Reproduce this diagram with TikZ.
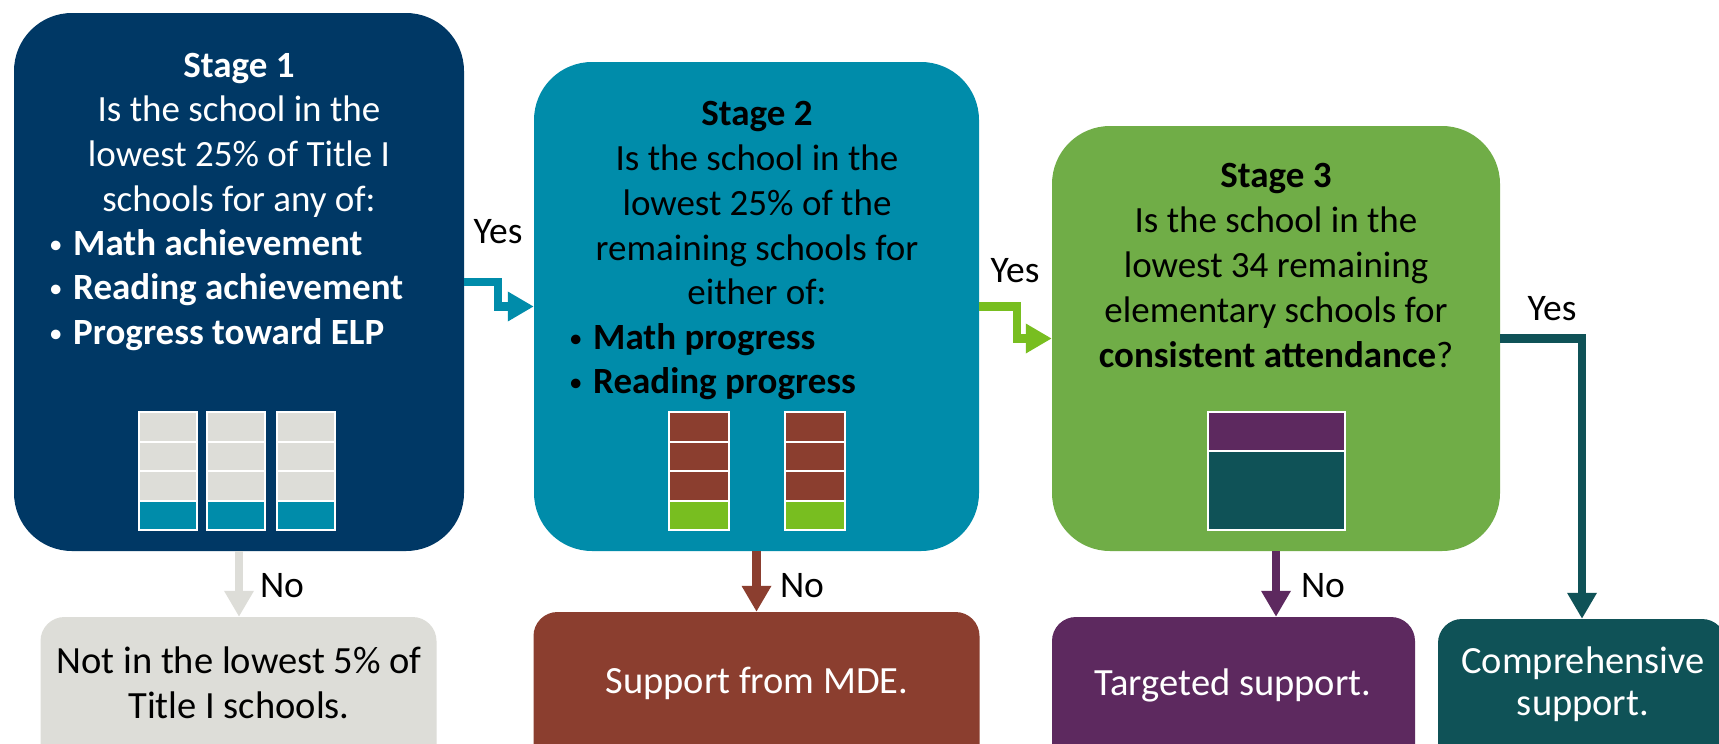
\documentclass[tikz,border=0pt]{standalone}
\usepackage{fontspec}
\setmainfont{Carlito}
\usetikzlibrary{arrows.meta}

\definecolor{navy}{RGB}{0,56,101}
\definecolor{tealblue}{RGB}{0,140,170}
\definecolor{leafgreen}{RGB}{112,173,71}
\definecolor{limegreen}{RGB}{120,190,32}
\definecolor{stonegray}{RGB}{221,221,216}
\definecolor{rust}{RGB}{139,62,47}
\definecolor{plum}{RGB}{93,41,95}
\definecolor{deepteal}{RGB}{15,82,87}

% small list bullet followed by a fixed gap
\newcommand{\listdot}{\makebox[24pt][l]{\fontsize{27}{27}\selectfont\raisebox{2pt}{•}}}

\begin{document}
\begin{tikzpicture}[x=1pt,y=-1pt,
  stagebox/.style={rectangle,rounded corners=58pt,inner sep=0pt},
  outbox/.style={rectangle,rounded corners=24pt,inner sep=0pt},
  txt/.style={inner sep=0pt,anchor=base,font=\fontsize{37}{45}\selectfont},
  outtxt/.style={inner sep=0pt,anchor=base,font=\fontsize{38.5}{45}\selectfont},
  bul/.style={txt,anchor=base west},
  lbl/.style={inner sep=0pt,anchor=base,font=\fontsize{37.5}{42}\selectfont},
  flow/.style={line width=8.5pt,-{Triangle[width=28pt,length=26pt]}},
  cell/.style={draw=white,line width=1.2pt}
]
\useasboundingbox (0,0) rectangle (1719,744);
\clip (0,0) rectangle (1719,744);
\fill[white] (0,0) rectangle (1719,744);

% stage boxes
\node[stagebox,fill=navy,minimum width=450pt,minimum height=538pt] (s1) at (239,282) {};
\node[stagebox,fill=tealblue,minimum width=445pt,minimum height=489pt] (s2) at (756.5,306.5) {};
\node[stagebox,fill=leafgreen,minimum width=448pt,minimum height=425pt] (s3) at (1276,338.5) {};

% outcome boxes (their lower edge runs past the page)
\node[outbox,fill=stonegray,minimum width=396pt,minimum height=163pt] (n1) at (238.5,698.5) {};
\node[outbox,fill=rust,minimum width=446pt,minimum height=168pt] (n2) at (756.5,696) {};
\node[outbox,fill=plum,minimum width=363pt,minimum height=163pt] (n3) at (1233.5,698.5) {};
\node[outbox,fill=deepteal,minimum width=288pt,minimum height=161pt] (c4) at (1582,699.5) {};

% stage 1 text
\begin{scope}[text=white]
\node[txt] (s1a) at (239,77) {\textbf{Stage 1}};
\node[txt] (s1b) at (239,121) {Is the school in the};
\node[txt] (s1c) at (239,166) {lowest 25\% of Title I};
\node[txt] (s1d) at (239,211) {schools for any of:};
\node[bul] (s1e) at (49,255) {\listdot\textbf{Math achievement}};
\node[bul] (s1f) at (49,299) {\listdot\textbf{Reading achievement}};
\node[bul] (s1g) at (49,344) {\listdot\textbf{Progress toward ELP}};
\end{scope}

% stage 2 text
\node[txt] (s2a) at (757,125) {\textbf{Stage 2}};
\node[txt] (s2b) at (757,170) {Is the school in the};
\node[txt] (s2c) at (757,215) {lowest 25\% of the};
\node[txt] (s2d) at (757,260) {remaining schools for};
\node[txt] (s2e) at (757,304) {either of:};
\node[bul] (s2f) at (569,349) {\listdot\textbf{Math progress}};
\node[bul] (s2g) at (569,393) {\listdot\textbf{Reading progress}};

% stage 3 text
\node[txt] (s3a) at (1276,187) {\textbf{Stage 3}};
\node[txt] (s3b) at (1276,232) {Is the school in the};
\node[txt] (s3c) at (1276,277) {lowest 34 remaining};
\node[txt] (s3d) at (1276,322) {elementary schools for};
\node[txt] (s3e) at (1276,367) {\textbf{consistent attendance}?};

% outcome text
\node[outtxt] (n1a) at (239,673) {Not in the lowest 5\% of};
\node[outtxt] (n1b) at (239,718) {Title I schools.};
\node[outtxt,text=white] (n2a) at (757,693) {Support from MDE.};
\node[outtxt,text=white] (n3a) at (1233,695) {Targeted support.};
\node[outtxt,text=white] (c4a) at (1583,673) {Comprehensive};
\node[outtxt,text=white] (c4b) at (1583,715) {support.};

% stage 1 bars
\foreach \x in {139,207,277}{
  \foreach \y in {412,442,471}
    \draw[cell,fill=stonegray] (\x,\y) rectangle (\x+58,\y+30);
  \draw[cell,fill=tealblue] (\x,501) rectangle (\x+58,530);
}
% stage 2 bars
\foreach \x in {669,785}{
  \foreach \y in {412,442,471}
    \draw[cell,fill=rust] (\x,\y) rectangle (\x+60,\y+30);
  \draw[cell,fill=limegreen] (\x,501) rectangle (\x+60,530);
}
% stage 3 bar
\draw[cell,fill=plum] (1208,412) rectangle (1345,451);
\draw[cell,fill=deepteal] (1208,451) rectangle (1345,530);

% connectors
\draw[flow,tealblue] (s1.east) -- ++(34,0) |- (s2.west);
\draw[flow,limegreen] (s2.east) -- ++(38,0) |- (s3.west);
\draw[flow,deepteal] (s3.east) -| (c4.north);
\draw[flow,stonegray] (s1.south) -- (s1.south |- n1.north);
\draw[flow,rust] (s2.south) -- (s2.south |- n2.north);
\draw[flow,plum] (s3.south) -- (s3.south |- n3.north);

% connector labels
\node[lbl] (y1) at (498,243) {Yes};
\node[lbl] (y2) at (1015,282) {Yes};
\node[lbl] (y3) at (1552,320) {Yes};
\node[lbl] (no1) at (282,597) {No};
\node[lbl] (no2) at (802,597) {No};
\node[lbl] (no3) at (1323,597) {No};
\end{tikzpicture}
\end{document}
